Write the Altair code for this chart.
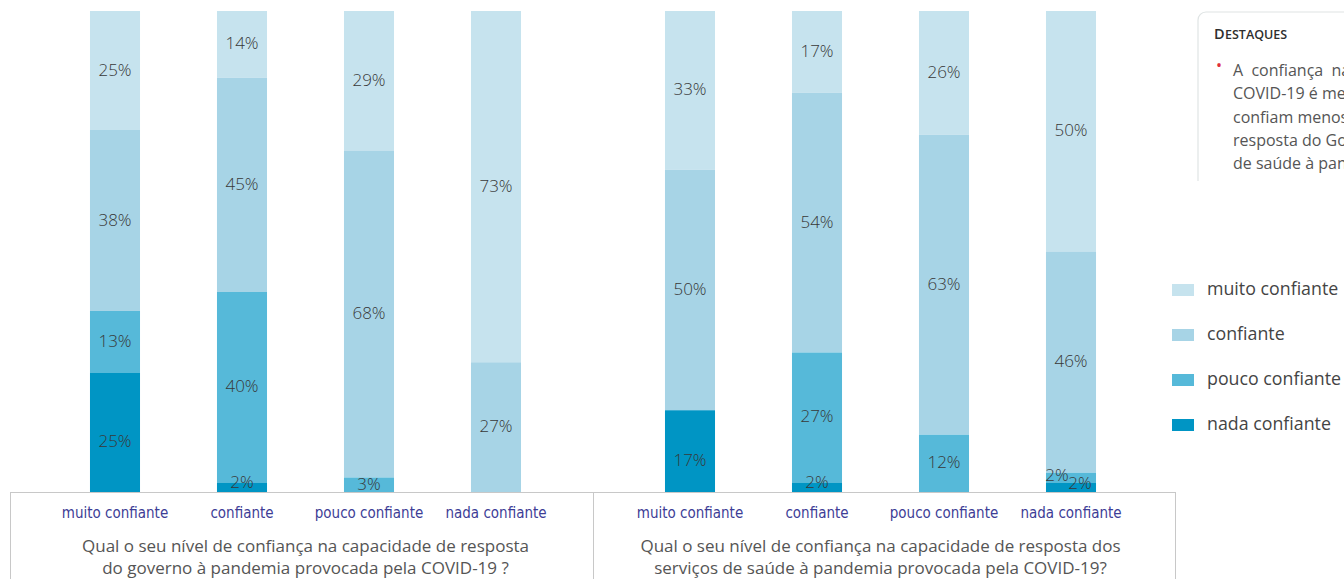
import altair as alt
import pandas as pd

# ---- data ----
respostas = ["muito confiante", "confiante", "pouco confiante", "nada confiante"]
paineis = ["governo", "saude"]
niveis = ["muito confiante", "confiante", "pouco confiante", "nada confiante"]
cores = ["#c6e3ee", "#a7d4e6", "#56b9d9", "#0095c4"]

gov_muito = [25, 14, 29, 73]
gov_confiante = [38, 45, 68, 27]
gov_pouco = [13, 40, 3, 0]
gov_nada = [25, 2, 0, 0]

sau_muito = [33, 17, 26, 50]
sau_confiante = [50, 54, 63, 46]
sau_pouco = [0, 27, 12, 2]
sau_nada = [17, 2, 0, 2]

perguntas = [
    "Qual o seu nível de confiança na capacidade de resposta\ndo governo à pandemia provocada pela COVID-19 ?",
    "Qual o seu nível de confiança na capacidade de resposta dos\nserviços de saúde à pandemia provocada pela COVID-19?",
]

destaques_titulo = ["D", "ESTAQUES"]
destaques_linhas = [
    "A\u00a0 confiança\u00a0 na capacidade",
    "COVID-19 é menor entre",
    "confiam menos na",
    "resposta do Governo",
    "de saúde à pandemia",
]

# ---- tables ----
rows = []
for painel, series in [
    ("governo", [gov_muito, gov_confiante, gov_pouco, gov_nada]),
    ("saude", [sau_muito, sau_confiante, sau_pouco, sau_nada]),
]:
    for nivel, vals in zip(niveis, series):
        for resp, v in zip(respostas, vals):
            if v > 0:
                rows.append(dict(painel=painel, resposta=resp, nivel=nivel, valor=v,
                                 ordem=3 - niveis.index(nivel)))
df = pd.DataFrame(rows)

cats = pd.DataFrame([dict(painel=p, resposta=r) for p in paineis for r in respostas])
qdf = pd.DataFrame(dict(painel=paineis, pergunta=perguntas))

W, H = 1166, 481

X = alt.X("painel:N", scale=alt.Scale(domain=paineis, paddingInner=0.11652, paddingOuter=0.07217), axis=None)
XO = alt.XOffset("resposta:N", scale=alt.Scale(domain=respostas, paddingInner=0.606, paddingOuter=0.303))
yscale = alt.Scale(domain=[0, 1], nice=False)

base = alt.Chart(df).transform_stack(
    stack="valor", groupby=["painel", "resposta"], as_=["y0", "y1"], offset="normalize",
    sort=[alt.SortField("ordem", order="ascending")],
).transform_calculate(
    mid="(datum.y0 + datum.y1) / 2",
    rotulo="datum.valor + '%'",
)

bars = base.mark_bar(strokeWidth=0).encode(
    x=X, xOffset=XO,
    y=alt.Y("y0:Q", scale=yscale, axis=None),
    y2="y1:Q",
    color=alt.Color("nivel:N", scale=alt.Scale(domain=niveis, range=cores),
                    legend=alt.Legend(title=None, orient="none", legendX=1162, legendY=268,
                                      symbolType="M-1,-0.545H1V0.545H-1Z", symbolSize=484,
                                      symbolStrokeWidth=0, symbolOpacity=1,
                                      labelFont="Open Sans", labelFontSize=17.8, labelColor="#444444",
                                      labelOffset=13, rowPadding=25, padding=0)),
)

lab_style = dict(font="Open Sans", fontSize=17, color="#383838", fontWeight=300)

def labels(filt, dx=0, dy=0):
    return base.transform_filter(filt).mark_text(dx=dx, dy=dy, **lab_style).encode(
        x=X, xOffset=XO, y=alt.Y("mid:Q", scale=yscale, axis=None), text="rotulo:N")

special_a = "datum.painel == 'saude' && datum.resposta == 'nada confiante' && (datum.nivel == 'nada confiante' || datum.nivel == 'pouco confiante')"
nada_big = "datum.nivel == 'nada confiante' && datum.valor >= 10"
nada_small = "datum.nivel == 'nada confiante' && datum.valor < 10 && datum.resposta == 'confiante'"
general = f"!({special_a}) && !({nada_big}) && !({nada_small})"

lab_general = labels(general)
lab_big = labels(nada_big, dy=10)
lab_small = labels(nada_small, dy=-4)
lab_s1 = labels("datum.painel == 'saude' && datum.resposta == 'nada confiante' && datum.nivel == 'nada confiante'", dx=9, dy=-3)
lab_s2 = labels("datum.painel == 'saude' && datum.resposta == 'nada confiante' && datum.nivel == 'pouco confiante'", dx=-14, dy=-2)

cat_labels = alt.Chart(cats).mark_text(
    font="DejaVu Sans Condensed, Liberation Sans Narrow, sans-serif", fontSize=15, color="#3d3d96"
).encode(x=X, xOffset=XO, y=alt.value(502), text="resposta:N")

questions = alt.Chart(qdf).mark_text(
    font="Open Sans", fontSize=17, color="#555555", lineBreak="\n", lineHeight=22,
    baseline="alphabetic",
).encode(x=X, y=alt.value(541), text="pergunta:N")

one = pd.DataFrame({"k": [0]})
def rule(x, x2, y, y2, color="#c8c8c8"):
    return alt.Chart(one).mark_rule(color=color, strokeWidth=1).encode(
        x=alt.value(x), x2=alt.value(x2), y=alt.value(y), y2=alt.value(y2))

frame = [
    rule(0, 1165, H + 0.5, H + 0.5),
    rule(0.5, 0.5, H, H + 100),
    rule(583.5, 583.5, H, H + 100),
    rule(1165.5, 1165.5, H, H + 100),
]

box = alt.Chart(one).mark_rect(fillOpacity=0, stroke="#dfe4e4", strokeWidth=1.2, cornerRadius=8).encode(
    x=alt.value(1188), x2=alt.value(1420), y=alt.value(1), y2=alt.value(220))
cover = alt.Chart(one).mark_rect(color="white").encode(
    x=alt.value(1180), x2=alt.value(1420), y=alt.value(170), y2=alt.value(225))

t_d = alt.Chart(one).mark_text(font="Open Sans", fontSize=14.5, fontWeight=600, color="#2e2e2e",
                               align="left", baseline="alphabetic").encode(
    x=alt.value(1204), y=alt.value(28), text=alt.value(destaques_titulo[0]))
t_rest = alt.Chart(one).mark_text(font="Open Sans", fontSize=12.5, fontWeight=600, color="#2e2e2e",
                                  align="left", baseline="alphabetic").encode(
    x=alt.value(1215), y=alt.value(28), text=alt.value(destaques_titulo[1]))
bullet = alt.Chart(one).mark_text(font="Open Sans", fontSize=16, color="#e0303a", align="center",
                                  baseline="middle").encode(
    x=alt.value(1209), y=alt.value(55), text=alt.value("•"))
body = [
    alt.Chart(one).mark_text(font="Open Sans", fontSize=16, color="#555555", align="left",
                             baseline="alphabetic").encode(
        x=alt.value(1223), y=alt.value(65 + 23.3 * i), text=alt.value(line))
    for i, line in enumerate(destaques_linhas)
]

chart = alt.layer(
    bars, *frame, lab_general, lab_big, lab_small, lab_s1, lab_s2, cat_labels, questions,
    box, cover, t_d, t_rest, bullet, *body,
).properties(
    width=W, height=H,
    autosize=alt.AutoSizeParams(type="none"),
    padding={"left": 10, "top": 11, "right": 168, "bottom": 87},
).configure_view(stroke=None)

chart.save("out.html", embed_options={"renderer": "svg", "actions": False})
